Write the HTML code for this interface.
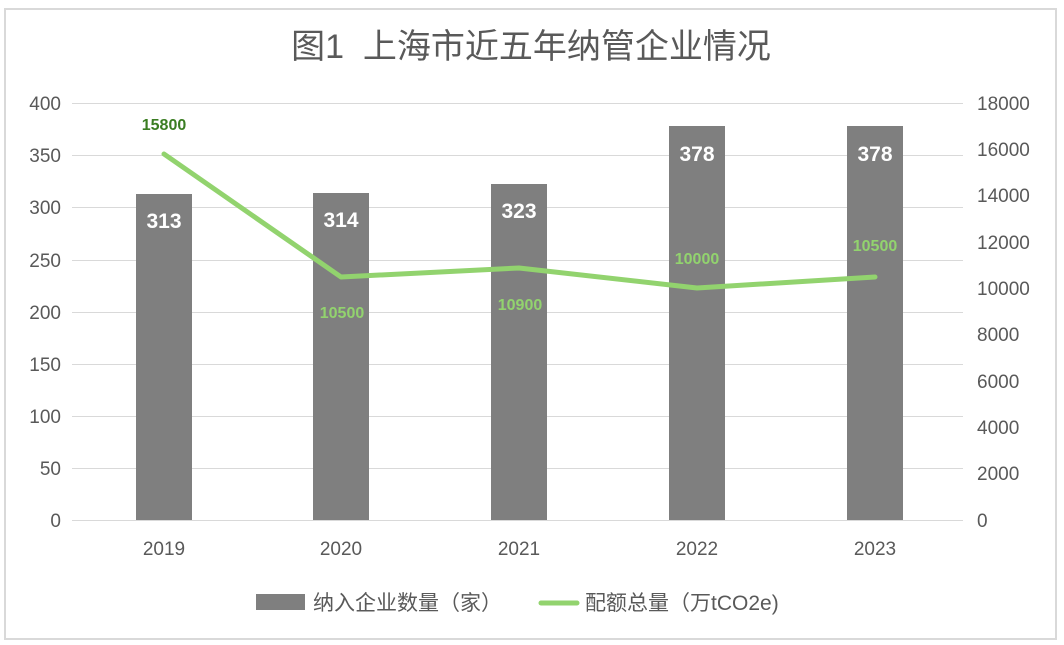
<!DOCTYPE html>
<html><head><meta charset="utf-8"><style>body{margin:0;background:#fff}svg{display:block}</style></head><body>
<svg width="1064" height="645" xmlns="http://www.w3.org/2000/svg" font-family="Liberation Sans, Noto Sans CJK SC, sans-serif">
<rect x="0" y="0" width="1064" height="645" fill="#fff"/>
<rect x="5" y="9" width="1051" height="630" fill="#fff" stroke="#d9d9d9" stroke-width="2"/>
<text x="531" y="58" text-anchor="middle" font-size="34" fill="#595959" xml:space="preserve">图1  上海市近五年纳管企业情况</text>
<g stroke="#d9d9d9" stroke-width="1">
<line x1="72" y1="103.5" x2="963" y2="103.5"/><line x1="72" y1="155.5" x2="963" y2="155.5"/>
<line x1="72" y1="207.5" x2="963" y2="207.5"/><line x1="72" y1="260.5" x2="963" y2="260.5"/>
<line x1="72" y1="312.5" x2="963" y2="312.5"/><line x1="72" y1="364.5" x2="963" y2="364.5"/>
<line x1="72" y1="416.5" x2="963" y2="416.5"/><line x1="72" y1="468.5" x2="963" y2="468.5"/>
<line x1="72" y1="520.5" x2="963" y2="520.5"/>
</g>
<g font-size="19" fill="#595959" text-anchor="end">
<text x="61" y="110">400</text><text x="61" y="162">350</text><text x="61" y="214">300</text>
<text x="61" y="267">250</text><text x="61" y="319">200</text><text x="61" y="371">150</text>
<text x="61" y="423">100</text><text x="61" y="475">50</text><text x="61" y="527">0</text>
</g>
<g font-size="19" fill="#595959" text-anchor="start">
<text x="977" y="110">18000</text><text x="977" y="156">16000</text><text x="977" y="202">14000</text>
<text x="977" y="249">12000</text><text x="977" y="295">10000</text><text x="977" y="341">8000</text>
<text x="977" y="388">6000</text><text x="977" y="434">4000</text><text x="977" y="480">2000</text>
<text x="977" y="527">0</text>
</g>
<g font-size="19" fill="#595959" text-anchor="middle">
<text x="164" y="555">2019</text><text x="341" y="555">2020</text><text x="519" y="555">2021</text><text x="697" y="555">2022</text><text x="875" y="555">2023</text>
</g>
<g fill="#7f7f7f">
<rect x="136" y="194" width="56" height="326"/>
<rect x="313" y="193" width="56" height="327"/>
<rect x="491" y="184" width="56" height="336"/>
<rect x="669" y="126" width="56" height="394"/>
<rect x="847" y="126" width="56" height="394"/>
</g>
<g font-size="21" font-weight="bold" fill="#fff" text-anchor="middle">
<text x="164" y="228">313</text><text x="341" y="227">314</text><text x="519" y="218">323</text><text x="697" y="161">378</text><text x="875" y="161">378</text>
</g>
<polyline points="164,154 341,277 519,268 697,288 875,277" fill="none" stroke="#92d36e" stroke-width="5" stroke-linejoin="round" stroke-linecap="round"/>
<g font-size="16" font-weight="bold" text-anchor="middle">
<text x="164" y="130" fill="#3a7d22">15800</text>
<text x="342" y="318" fill="#92d36e">10500</text>
<text x="520" y="310" fill="#92d36e">10900</text>
<text x="697" y="264" fill="#92d36e">10000</text>
<text x="875" y="251" fill="#92d36e">10500</text>
</g>
<rect x="256" y="594" width="49" height="16" fill="#7f7f7f"/>
<text x="313" y="610" font-size="21" fill="#595959">纳入企业数量（家）</text>
<line x1="541" y1="603" x2="577" y2="603" stroke="#92d36e" stroke-width="5" stroke-linecap="round"/>
<text x="585" y="610" font-size="21" fill="#595959">配额总量（万tCO2e)</text>
</svg>
</body></html>
